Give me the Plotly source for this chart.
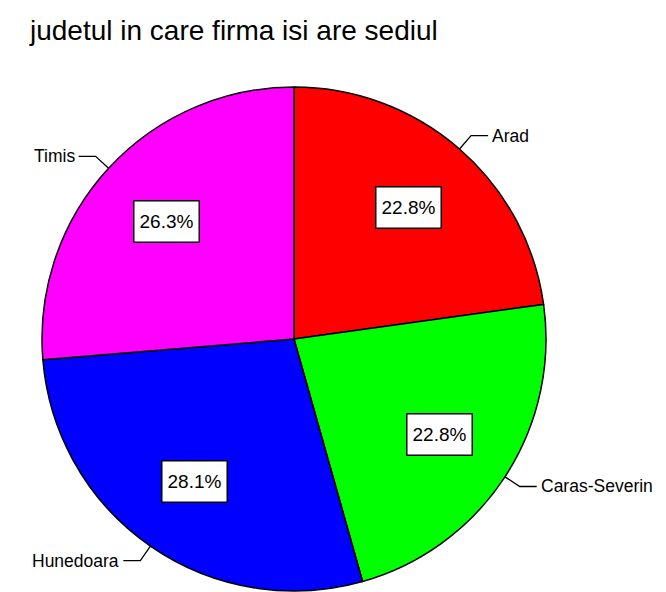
import math
import plotly.graph_objects as go

labels = ["Arad", "Caras-Severin", "Hunedoara", "Timis"]
counts = [13, 13, 16, 15]
pct_labels = ["22.8%", "22.8%", "28.1%", "26.3%"]
colors = ["#ff0000", "#00ff00", "#0000ff", "#ff00ff"]
title = "judetul in care firma isi are sediul"

W, H = 666, 592
OFF = 8  # page body margin
CX, CY, R = 294, 339, 252

def px(x):
    return (x - OFF) / W

def py(y):
    return 1 - (y - OFF) / H

fig = go.Figure()
fig.add_trace(go.Pie(
    labels=labels, values=counts, sort=False, direction="clockwise", rotation=0,
    marker=dict(colors=colors, line=dict(color="black", width=1.5)),
    textinfo="none", hoverinfo="label+percent", showlegend=False,
    domain=dict(x=[px(CX - R), px(CX + R)], y=[py(CY + R), py(CY - R)]),
))

total = sum(counts)
annotations = []
shapes = []
cum = 0
for lab, c, pl in zip(labels, counts, pct_labels):
    mid = (cum + c / 2) / total * 2 * math.pi
    cum += c
    s, co = math.sin(mid), math.cos(mid)
    bx, by = CX + 0.69 * R * s, CY - 0.69 * R * co
    annotations.append(dict(
        x=px(bx), y=py(by), xref="paper", yref="paper", text=pl, showarrow=False,
        font=dict(family="Liberation Sans, Arial, sans-serif", size=19, color="black"),
        bgcolor="white", bordercolor="black", borderwidth=1.5, borderpad=3,
        width=58, height=34, xanchor="center", yanchor="middle",
    ))
    ex, ey = CX + R * s, CY - R * co
    kx, ky = CX + 1.07 * R * s, CY - 1.07 * R * co
    sign = 1 if s >= 0 else -1
    hx = kx + sign * 17
    shapes.append(dict(
        type="path", xref="paper", yref="paper",
        path=f"M {px(ex)},{py(ey)} L {px(kx)},{py(ky)} L {px(hx)},{py(ky)}",
        line=dict(color="black", width=1.3),
    ))
    annotations.append(dict(
        x=px(hx + sign * 2), y=py(ky), xref="paper", yref="paper", text=lab,
        showarrow=False, xanchor="left" if sign > 0 else "right", yanchor="middle",
        font=dict(family="Liberation Sans, Arial, sans-serif", size=17.5, color="black"),
    ))

annotations.append(dict(
    x=px(233), y=py(31), xref="paper", yref="paper", text=title, showarrow=False,
    xanchor="center", yanchor="middle",
    font=dict(family="Liberation Sans, Arial, sans-serif", size=28, color="black"),
))

fig.update_layout(
    width=W, height=H, margin=dict(l=0, r=0, t=0, b=0),
    paper_bgcolor="white", plot_bgcolor="white",
    annotations=annotations, shapes=shapes,
)
fig.write_html("out.html")
